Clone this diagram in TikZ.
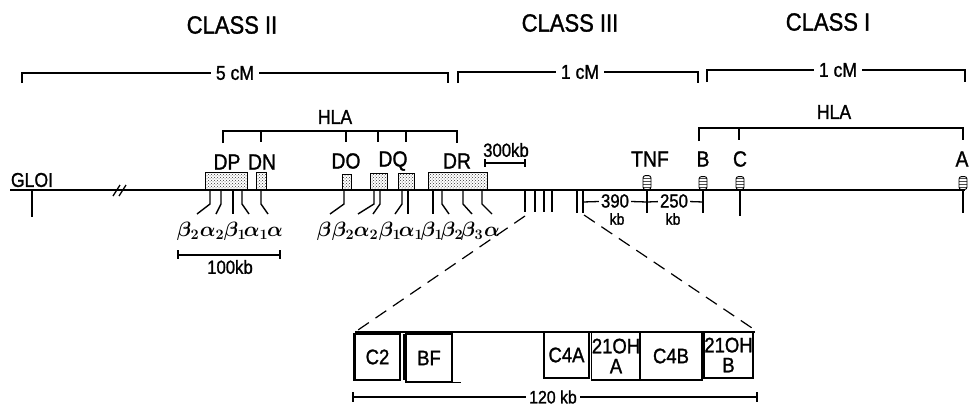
\documentclass[tikz,border=0pt]{standalone}
\usepackage{fontspec}
\setmainfont{Liberation Sans}[FakeStretch=0.88,FakeBold=1.2]
\usetikzlibrary{patterns,calc}

\begin{document}
\begin{tikzpicture}[x=1pt,y=-1pt,
  chrom/.style={line width=1.8pt},
  brk/.style={line width=1.3pt},
  tail/.style={line width=1.4pt},
  zoomline/.style={line width=1.2pt,dash pattern=on 13pt off 8pt},
  gene/.style={draw,line width=1pt,pattern=crosshatch dots,pattern color=black!80,inner sep=0pt,anchor=south},
  locus/.style={draw,line width=0.9pt,rounded corners=2.5pt,pattern=horizontal lines,pattern color=black!70,inner sep=0pt,minimum width=8pt,minimum height=13pt,anchor=south},
  head/.style={font=\fontsize{25}{27}\selectfont},
  big/.style={font=\fontsize{22}{24}\selectfont},
  mid/.style={font=\fontsize{20}{22}\selectfont},
  small/.style={font=\fontsize{16}{17}\selectfont},
  gl/.style={font=\fontsize{20}{22}\selectfont\boldmath,anchor=base,inner sep=0pt},
  seg/.style={draw,line width=1.1pt,inner sep=0pt,align=center,font=\fontsize{21}{20}\selectfont},
  gap/.style={inner sep=5pt}
]
\useasboundingbox[fill=white] (0,0) rectangle (970,407);

% class headings and genetic distances
\node[head] (cl2) at (232,25) {CLASS II};
\node[head] (cl3) at (570,23) {CLASS III};
\node[head] (cl1) at (828,22) {CLASS I};
\node[mid,gap] (cm5) at (235,73) {5 cM};
\node[mid,gap] (cm1a) at (580,72) {1 cM};
\node[mid,gap] (cm1b) at (838,70) {1 cM};
\draw[brk] (22,83) |- (cm5) -| (448,83);
\draw[brk] (458,83) |- (cm1a) -| (698,83);
\draw[brk] (707,82) |- (cm1b) -| (965,82);

% HLA groupings
\node[mid] (hla2) at (335,117) {HLA};
\node[mid] (hla1) at (834,112) {HLA};
\draw[brk] (223,143) -- (223,131) -- (457,131) -- (457,143);
\foreach \x in {261,346,378,406} \draw[brk] (\x,131) -- (\x,142);
\draw[brk] (699,141) -- (699,128) -- (963,128) -- (963,140);
\draw[brk] (739,128) -- (739,140);

% class II genes
\node[gene,minimum width=42pt,minimum height=17pt] (dp) at (226,190) {};
\node[gene,minimum width=10pt,minimum height=17pt] (dn) at (261,190) {};
\node[gene,minimum width=9pt,minimum height=15pt] (do) at (346.5,190) {};
\node[gene,minimum width=17pt,minimum height=16pt] (dqa) at (378.5,190) {};
\node[gene,minimum width=16pt,minimum height=16pt] (dqb) at (406,190) {};
\node[gene,minimum width=59pt,minimum height=17pt] (dr) at (457.5,190) {};
\node[big] (dplab) at (227,162) {DP};
\node[big] (dnlab) at (262,162) {DN};
\node[big] (dolab) at (346,161) {DO};
\node[big] (dqlab) at (393,161) {DQ};
\node[big] (drlab) at (457,161) {DR};

% class I genes and TNF
\node[locus,minimum height=14pt] (tnf) at (647,190) {};
\node[locus] (lb) at (703,190) {};
\node[locus] (lc) at (740,190) {};
\node[locus] (la) at (963,190) {};
\node[big] (tnflab) at (650,159) {TNF};
\node[big] (blab) at (703,159) {B};
\node[big] (clab) at (740,159) {C};
\node[big] (alab) at (962,159) {A};

% chromosome
\draw[chrom] (10,190) -- (965,190);
\draw[brk] (113,196) -- (120,185);
\draw[brk] (119,196) -- (126,185);
\node[mid] (gloi) at (32,180) {GLOI};
\draw[tail] (32,190) -- (32,217);

% chain labels
\node[gl] (b2p) at (188,236) {$\beta_2$};
\node[gl] (a2p) at (212,236) {$\alpha_2$};
\node[gl] (b1p) at (235,236) {$\beta_1$};
\node[gl] (a1p) at (256,236) {$\alpha_1$};
\node[gl] (an) at (275,236) {$\alpha$};
\node[gl] (bo) at (324,236) {$\beta$};
\node[gl] (b2q) at (343,236) {$\beta_2$};
\node[gl] (a2q) at (366,236) {$\alpha_2$};
\node[gl] (b1q) at (390,236) {$\beta_1$};
\node[gl] (a1q) at (411,236) {$\alpha_1$};
\node[gl] (b1r) at (432,236) {$\beta_1$};
\node[gl] (b2r) at (452,236) {$\beta_2$};
\node[gl] (b3r) at (472,236) {$\beta_3$};
\node[gl] (ar) at (492,236) {$\alpha$};
\foreach \a/\b in {210/197,221/216,233/233,242/249,261/268,
  344/330,374/358,380/373,402/395,408/408,433/433,442/449,463/472,482/492}
  \draw[tail] (\a,190) -- (\a,204) -- (\b,214);

% scale bars
\node[mid,font=\fontsize{19}{20}\selectfont] (kb100) at (230,267) {100kb};
\draw[brk] (178,250) -- (178,259) (178,255) -- (280,255) (280,250) -- (280,259);
\node[mid,font=\fontsize{19}{20}\selectfont] (kb300) at (506,150) {300kb};
\draw[brk] (485,159) -- (485,167) (485,163) -- (525,163) (525,159) -- (525,167);

% class III region
\foreach \x in {525,535,544,552} \draw[tail] (\x,190) -- (\x,212);
\draw[tail] (577,190) -- (577,213);
\draw[tail] (583,190) -- (583,213);
\draw[tail] (647,190) -- (647,213);
\draw[tail] (703,190) -- (703,213);
\draw[tail] (740,190) -- (740,216);
\draw[tail] (963,190) -- (963,213);
\node[mid,font=\fontsize{19}{20}\selectfont,inner sep=2pt] (n390) at (615,201) {390};
\node[small] (kba) at (617,219) {kb};
\node[mid,font=\fontsize{19}{20}\selectfont,inner sep=2pt] (n250) at (674,201) {250};
\node[small] (kbb) at (673,219) {kb};
\draw[brk] (583,202) -- (n390) -- (647,202);
\draw[brk] (647,202) -- (n250) -- (703,202);

% expanded class III segment
\node[seg,minimum width=45pt,minimum height=46pt] (c2box) at (377.5,357) {C2};
\node[seg,minimum width=46pt,minimum height=48pt] (bfbox) at (429,358) {BF};
\node[seg,minimum width=45pt,minimum height=46pt] (c4abox) at (566.5,355) {C4A};
\node[seg,minimum width=48pt,minimum height=48pt] (ohabox) at (616,356) {21OH\\A};
\node[seg,minimum width=62pt,minimum height=48pt] (c4bbox) at (671,356) {C4B};
\node[seg,minimum width=49pt,minimum height=46pt] (ohbbox) at (728.5,355) {21OH\\B};
\draw[brk] (355,332) -- (755,332);
\draw[line width=2.2pt] (c2box.north west) -- (c2box.south west);
\draw[brk] (404,334) -- (404,380);
\draw[brk] (bfbox.south east) -- ++(8,0);
\coordinate (zl) at (358,330);
\coordinate (zr) at (752,328);
\draw[zoomline] (525,216) -- (zl);
\draw[zoomline] (584,215) -- (zr);

\node[mid,font=\fontsize{18}{19}\selectfont] (kb120) at (553,397) {120 kb};
\draw[brk] (353,392) -- (353,402) (353,397) -- (kb120) -- (757,397) (757,392) -- (757,402);
\end{tikzpicture}
\end{document}
